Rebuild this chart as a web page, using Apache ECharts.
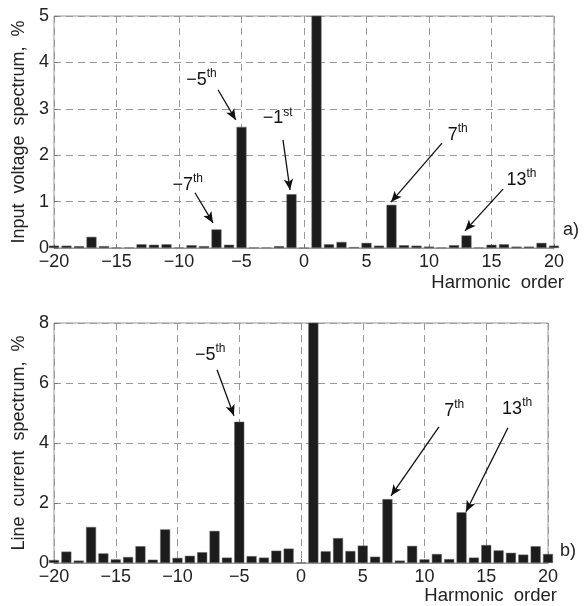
<!DOCTYPE html>
<html>
<head>
<meta charset="utf-8">
<script src="https://cdn.jsdelivr.net/npm/echarts@6/dist/echarts.min.js"></script>
<style>
  html, body { margin: 0; padding: 0; background: #fff; }
  #chart { width: 585px; height: 606px; }
</style>
</head>
<body>
<div id="chart"></div>
<script>
// harmonic orders -20 .. 20
const harmonics = [-20, -19, -18, -17, -16, -15, -14, -13, -12, -11, -10, -9, -8, -7, -6, -5, -4, -3, -2, -1,
  0, 1, 2, 3, 4, 5, 6, 7, 8, 9, 10, 11, 12, 13, 14, 15, 16, 17, 18, 19, 20]

// a) input voltage spectrum, %  (fundamental runs off the top)
const voltage = [0.05, 0.05, 0.04, 0.24, 0.04, 0.01, 0.01, 0.08, 0.07, 0.08, 0.01, 0.06, 0.04, 0.40, 0.07, 2.61, 0.01, 0.01, 0.04, 1.16,
  0.00, 100, 0.08, 0.13, 0.02, 0.11, 0.05, 0.93, 0.06, 0.05, 0.03, 0.01, 0.06, 0.27, 0.01, 0.07, 0.08, 0.03, 0.03, 0.11, 0.05]

// b) line current spectrum, %
const current = [0.10, 0.38, 0.08, 1.20, 0.32, 0.12, 0.20, 0.56, 0.11, 1.12, 0.17, 0.24, 0.36, 1.07, 0.18, 4.71, 0.23, 0.18, 0.41, 0.48,
  0.02, 100, 0.39, 0.83, 0.40, 0.58, 0.21, 2.13, 0.08, 0.57, 0.12, 0.30, 0.13, 1.69, 0.18, 0.60, 0.42, 0.34, 0.28, 0.56, 0.30]

// annotations: [main text, superscript, label x, label y]
const voltageNotes = [['−5', 'th', -8.2, 3.66], ['−1', 'st', -2.1, 2.84], ['−7', 'th', -9.3, 1.40], ['7', 'th', 12.3, 2.48], ['13', 'th', 17.4, 1.51]]
// arrows: [from x, from y, to x, to y]
const voltageArrows = [[-6.88, 3.41, -5.46, 2.76], [-1.68, 2.33, -1.12, 1.25], [-8.72, 1.19, -7.28, 0.54], [11.04, 2.26, 6.96, 0.99], [15.92, 1.27, 12.88, 0.37]]

const currentNotes = [['−5', 'th', -7.35, 7.0], ['7', 'th', 12.4, 5.14], ['13', 'th', 17.5, 5.21]]
const currentArrows = [[-6.8, 6.44, -5.43, 4.91], [11.17, 4.54, 7.29, 2.24], [16.76, 4.51, 13.36, 1.71]]

const font = 'Liberation Sans'
const minus = v => String(v).replace('-', '−')

function xAxisOf(idx) {
  return {
    type: 'value', gridIndex: idx, min: -20, max: 20, interval: 5,
    axisLine: { show: true, onZero: false, lineStyle: { color: '#999' } },
    axisTick: { inside: true, length: 4, lineStyle: { color: '#777' } },
    axisLabel: { fontFamily: font, fontSize: 18, color: '#222', margin: 5, formatter: minus },
    splitLine: { show: true, lineStyle: { color: '#999', type: [7, 5], width: 1 } }
  }
}

function yAxisOf(idx, max, step, name) {
  return {
    type: 'value', gridIndex: idx, min: 0, max: max, interval: step,
    name: name, nameLocation: 'middle', nameGap: 19,
    nameTextStyle: { fontFamily: font, fontSize: 18, color: '#222' },
    axisLine: { show: false, onZero: false },
    axisTick: { show: true, inside: true, length: 4, lineStyle: { color: '#777' } },
    axisLabel: { fontFamily: font, fontSize: 18, color: '#222', margin: 5 },
    splitLine: { show: true, lineStyle: { color: '#999', type: [7, 5], width: 1 } }
  }
}

function barSeries(idx, values, notes, arrows) {
  return {
    type: 'bar', xAxisIndex: idx, yAxisIndex: idx,
    data: harmonics.map((h, i) => [h, values[i]]),
    barWidth: 10, clip: true,
    itemStyle: { color: '#1c1c1c', borderColor: '#666', borderWidth: 0.5 },
    markLine: {
      silent: true, symbol: ['none', 'arrow'], symbolSize: [7, 11],
      lineStyle: { color: '#111', width: 1.3, type: 'solid' },
      label: { show: false },
      data: arrows.map(a => [{ coord: [a[0], a[1]] }, { coord: [a[2], a[3]] }])
    },
    markPoint: {
      silent: true, symbol: 'circle', symbolSize: 1,
      itemStyle: { color: 'rgba(0,0,0,0)' },
      label: {
        show: true, position: 'inside', fontFamily: font,
        formatter: p => '{a|' + p.data.t + '}{s|' + p.data.s + '}',
        rich: {
          a: { fontFamily: font, fontSize: 18, color: '#111', verticalAlign: 'bottom', lineHeight: 22 },
          s: { fontFamily: font, fontSize: 12, color: '#111', verticalAlign: 'bottom', lineHeight: 22, padding: [0, 0, 9, 0] }
        }
      },
      data: notes.map(n => ({ coord: [n[2], n[3]], t: n[0], s: n[1] }))
    }
  }
}

const chart = echarts.init(document.getElementById('chart'))
chart.setOption({
  animation: false,
  backgroundColor: '#fff',
  grid: [
    { left: 54, top: 16, width: 500, height: 232, show: true, borderColor: '#999', borderWidth: 1 },
    { left: 54, top: 323, width: 494, height: 240, show: true, borderColor: '#999', borderWidth: 1 }
  ],
  xAxis: [xAxisOf(0), xAxisOf(1)],
  yAxis: [yAxisOf(0, 5, 1, 'Input  voltage  spectrum,  %'), yAxisOf(1, 8, 2, 'Line  current  spectrum,  %')],
  series: [
    barSeries(0, voltage, voltageNotes, voltageArrows),
    barSeries(1, current, currentNotes, currentArrows)
  ],
  graphic: [
    { type: 'text', right: 21, top: 273, style: { text: 'Harmonic  order', font: '18.5px "Liberation Sans"', fill: '#222' } },
    { type: 'text', right: 28, top: 586, style: { text: 'Harmonic  order', font: '18.5px "Liberation Sans"', fill: '#222' } },
    { type: 'text', left: 563, top: 221, style: { text: 'a)', font: '18px "Liberation Sans"', fill: '#222' } },
    { type: 'text', left: 560, top: 542, style: { text: 'b)', font: '18px "Liberation Sans"', fill: '#222' } }
  ]
})
</script>
</body>
</html>
